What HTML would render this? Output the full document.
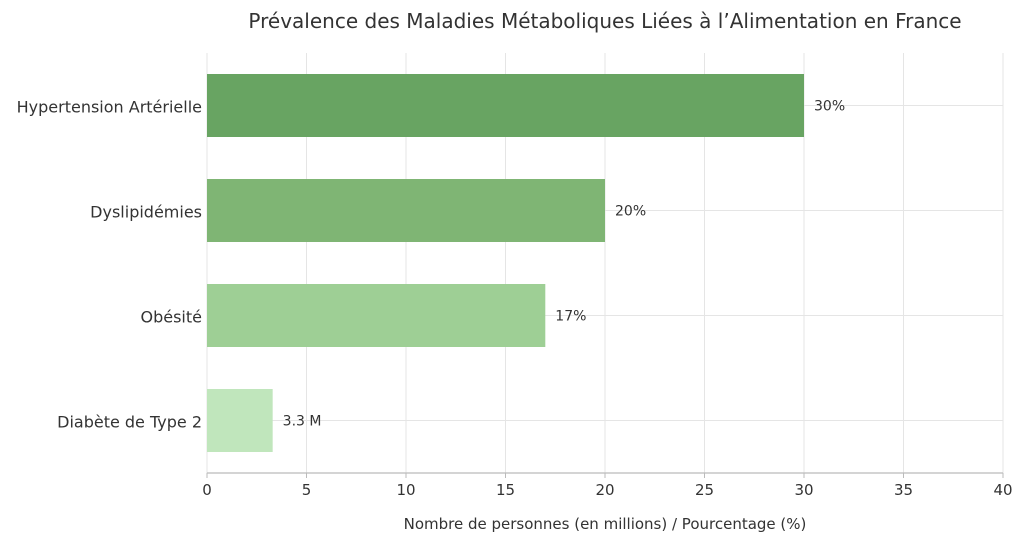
<!DOCTYPE html>
<html><head><meta charset="utf-8"><style>
body{margin:0;background:#fff;width:1024px;height:542px;overflow:hidden}
svg text{font-family:"DejaVu Sans","Liberation Sans",sans-serif;fill:#333}
</style></head><body>
<svg id="chart" width="1024" height="542" xmlns="http://www.w3.org/2000/svg">
<text x="605" y="28" text-anchor="middle" font-size="20">Prévalence des Maladies Métaboliques Liées à l’Alimentation en France</text>
<g id="grid"></g>
<g id="bars"></g>
<g id="axes"></g>
<text x="605" y="529" text-anchor="middle" font-size="15">Nombre de personnes (en millions) / Pourcentage (%)</text>
</svg>
<script>
const categories=["Hypertension Artérielle","Dyslipidémies","Obésité","Diabète de Type 2"];
const values=[30,20,17,3.3];
const valueLabels=["30%","20%","17%","3.3 M"];
const colors=["#68a462","#7fb574","#9ecf95","#c0e6bc"];
const xTicks=[0,5,10,15,20,25,30,35,40];
const NS="http://www.w3.org/2000/svg";
const L=207,R=1003,T=53,B=473,xmax=40;
const x=v=>L+(R-L)*v/xmax;
const band=(B-T)/categories.length;
const yc=i=>T+band*(i+0.5);
const bh=63;
function mk(tag,attrs,parent,txt){const e=document.createElementNS(NS,tag);for(const k in attrs)e.setAttribute(k,attrs[k]);if(txt!==undefined)e.textContent=txt;parent.appendChild(e);return e;}
const grid=document.getElementById('grid'),bars=document.getElementById('bars'),axes=document.getElementById('axes');
xTicks.forEach(t=>{
 const g=mk('line',{x1:x(t),x2:x(t),y1:T,y2:B,stroke:'#e5e5e5','stroke-width':1},grid);
 
 
 const tk=mk('line',{x1:x(t),x2:x(t),y1:B,y2:B+5,stroke:'#bbb'},axes);
 
 
 const lb=mk('text',{x:x(t),y:B+22,'text-anchor':'middle','font-size':15},axes,String(t));
 
 
});
categories.forEach((c,i)=>{
 const gl=mk('line',{x1:L,x2:R,y1:yc(i),y2:yc(i),stroke:'#e5e5e5'},grid);
 
 
 const r=mk('rect',{x:L,y:yc(i)-bh/2,width:x(values[i])-L,height:bh,fill:colors[i]},bars);
 
 
 const v=mk('text',{x:x(values[i])+10,y:yc(i)+5,'font-size':14},bars,valueLabels[i]);
 
 
 const cl=mk('text',{x:L-5,y:yc(i)+7,'text-anchor':'end','font-size':16},axes,c);
 
 
});
const ax=mk('line',{x1:L,x2:R,y1:B,y2:B,stroke:'#bbb','stroke-width':1.2},axes);


</script>
</body></html>
